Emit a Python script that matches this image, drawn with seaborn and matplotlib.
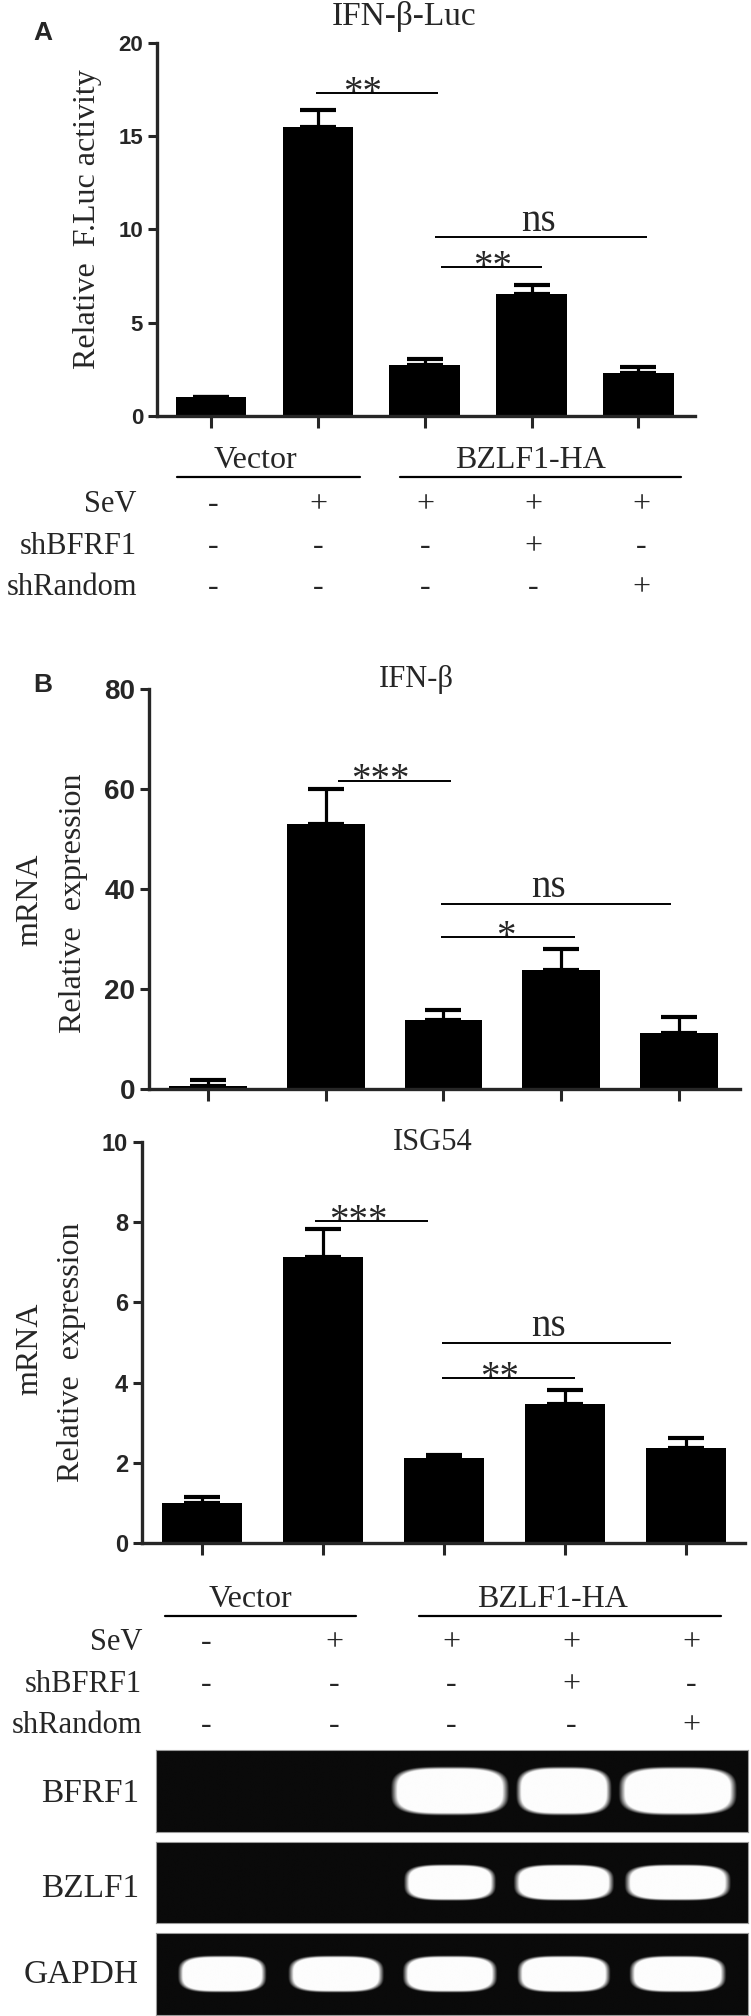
import numpy as np
import matplotlib
matplotlib.use("Agg")
import matplotlib.pyplot as plt
import seaborn as sns

W, H = 751, 2016

# ---- data ----
conditions = ["Vector", "Vector+SeV", "BZLF1+SeV", "BZLF1+SeV+shBFRF1", "BZLF1+SeV+shRandom"]
luc_mean = [1.0, 15.5, 2.75, 6.55, 2.3]
luc_err = [0.0, 0.9, 0.28, 0.45, 0.32]
ifnb_mean = [0.7, 53.1, 13.8, 23.9, 11.2]
ifnb_err = [1.1, 7.0, 2.0, 4.1, 3.2]
isg54_mean = [1.0, 7.12, 2.12, 3.46, 2.37]
isg54_err = [0.15, 0.7, 0.08, 0.36, 0.25]

row_names = ["SeV", "shBFRF1", "shRandom"]
sev = ["-", "+", "+", "+", "+"]
shbfrf1 = ["-", "-", "-", "+", "-"]
shrandom = ["-", "-", "-", "-", "+"]
groups = ["Vector", "BZLF1-HA"]

# significance brackets: (x from, x to, y, label, label x)
luc_sig = [(0.98, 2.12, 17.3, "**", 1.42), (2.10, 4.08, 9.6, "ns", 3.06), (2.15, 3.10, 8.0, "**", 2.64)]
ifnb_sig = [(1.10, 2.06, 61.7, "***", 1.46), (1.98, 3.93, 37.1, "ns", 2.89), (1.98, 3.12, 30.4, "*", 2.53)]
isg_sig = [(0.93, 1.87, 8.02, "***", 1.29), (1.98, 3.88, 5.0, "ns", 2.86), (1.98, 3.08, 4.12, "**", 2.46)]

blot_names = ["BFRF1", "BZLF1", "GAPDH"]
bfrf1_band = [0, 0, 1.0, 0.81, 1.0]
bzlf1_band = [0, 0, 0.78, 0.85, 0.9]
gapdh_band = [0.75, 0.81, 0.8, 0.79, 0.82]

sns.set_style("ticks")
plt.rcParams["font.family"] = ["Liberation Serif", "DejaVu Serif"]
SANS = "Liberation Sans"
SERIF = "Liberation Serif"

fig = plt.figure(figsize=(W / 100, H / 100), dpi=100)


def add_ax(l, t, r, b):
    return fig.add_axes([l / W, 1 - b / H, (r - l) / W, (b - t) / H])


def ftxt(x, y, s, **kw):
    fig.text(x / W, 1 - y / H, s, **kw)


def bar_panel(ax, means, errs, top, ticks, tsize, xlim, sig):
    sns.barplot(x=conditions, y=means, color="black", saturation=1, width=0.66,
                errorbar=None, ax=ax, edgecolor="black", linewidth=0)
    ax.errorbar(np.arange(5), means, yerr=[np.zeros(5), errs], fmt="none",
                ecolor="black", elinewidth=2.3, capsize=13, capthick=3)
    ax.set_xlim(*xlim)
    ax.set_ylim(0, top)
    ax.set_yticks(ticks)
    ax.set_yticklabels([str(t) for t in ticks], fontfamily=SANS, fontweight="bold", fontsize=tsize)
    ax.set_xlabel("")
    ax.set_ylabel("")
    sns.despine(ax=ax)
    for s in ["left", "bottom"]:
        ax.spines[s].set_linewidth(2.4)
    ax.tick_params(axis="y", length=6.5, width=2.2, pad=3.5)
    ax.tick_params(axis="x", length=8.5, width=2.2, labelbottom=False)
    for x1, x2, y, lab, tx in sig:
        ax.plot([x1, x2], [y, y], color="black", lw=1.4, solid_capstyle="butt")
        off = 4.5 if lab == "ns" else -7
        ax.annotate(lab, xy=(tx, y), xytext=(0, off), textcoords="offset points",
                    ha="center", va="baseline", fontsize=28, fontfamily=SERIF)


def cond_table(cols, line_spans, group_x, group_base, line_y, row_base, label_right):
    for g, gx in zip(groups, group_x):
        ftxt(gx, group_base, g, ha="center", va="baseline", fontsize=23, fontfamily=SERIF)
    for (x1, x2) in line_spans:
        fig.add_artist(plt.Line2D([x1 / W, x2 / W], [1 - line_y / H] * 2, color="black", lw=1.6))
    for name, row, yb in zip(row_names, [sev, shbfrf1, shrandom], row_base):
        ftxt(label_right, yb, name, ha="right", va="baseline", fontsize=22, fontfamily=SERIF)
        for cx, sym in zip(cols, row):
            ftxt(cx, yb, sym, ha="center", va="baseline", fontsize=23, fontfamily=SERIF)


def gel(ax, bands, hb):
    xlo, xhi = -0.579, 4.614
    xs = np.linspace(xlo, xhi, 900)
    ys = np.linspace(0, 1, 160)
    X, Y = np.meshgrid(xs, ys)
    img = np.zeros_like(X)
    for i, s in enumerate(bands):
        if s <= 0:
            continue
        a = 0.5 * s
        r = ((np.abs(X - i) / a) ** 3.4 + (np.abs(Y - 0.5) / hb) ** 3.4) ** (1 / 3.4)
        img = np.maximum(img, np.clip((1.04 - r) / 0.12, 0, 1))
    ax.imshow(0.04 + 0.95 * img, extent=(xlo, xhi, 0, 1), origin="lower", aspect="auto",
              cmap="gray", vmin=0, vmax=1, interpolation="bilinear")
    ax.set_xlim(xlo, xhi)
    ax.set_ylim(0, 1)
    ax.set_xticks([])
    ax.set_yticks([])
    for s in ax.spines.values():
        s.set_visible(True)
        s.set_color("#9a9a9a")
        s.set_linewidth(0.8)


# ---- panel A ----
axA = add_ax(157, 43, 695, 416)
bar_panel(axA, luc_mean, luc_err, 20, [0, 5, 10, 15, 20], 16, (-0.506, 4.53), luc_sig)
ftxt(404, 25, "IFN-β-Luc", ha="center", va="baseline", fontsize=24, fontfamily=SERIF)
ftxt(88, 219, "Relative  F.Luc activity", rotation=90, ha="center", va="center",
     fontsize=23, fontfamily=SERIF)
ftxt(33, 40, "A", ha="left", va="baseline", fontsize=19, fontfamily=SANS, fontweight="bold")
cond_table([213, 318, 425, 533, 641], [(177, 360), (400, 681)], [255, 531], 468, 477,
           [512, 554, 595], 137)

# ---- panel B, IFN-beta ----
axB1 = add_ax(149, 689, 740, 1089)
bar_panel(axB1, ifnb_mean, ifnb_err, 80, [0, 20, 40, 60, 80], 20, (-0.501, 4.518), ifnb_sig)
ftxt(416, 687, "IFN-β", ha="center", va="baseline", fontsize=22, fontfamily=SERIF)
ftxt(30, 900, "mRNA", rotation=90, ha="center", va="center", fontsize=23, fontfamily=SERIF)
ftxt(73, 903, "Relative  expression", rotation=90, ha="center", va="center", fontsize=23, fontfamily=SERIF)
ftxt(33, 692, "B", ha="left", va="baseline", fontsize=19, fontfamily=SANS, fontweight="bold")

# ---- panel B, ISG54 ----
axB2 = add_ax(142, 1142, 745, 1543)
bar_panel(axB2, isg54_mean, isg54_err, 10, [0, 2, 4, 6, 8, 10], 17, (-0.496, 4.488), isg_sig)
ftxt(433, 1150, "ISG54", ha="center", va="baseline", fontsize=22, fontfamily=SERIF)
ftxt(30, 1349, "mRNA", rotation=90, ha="center", va="center", fontsize=23, fontfamily=SERIF)
ftxt(72, 1352, "Relative  expression", rotation=90, ha="center", va="center", fontsize=23, fontfamily=SERIF)
cond_table([206, 334, 451, 571, 691], [(165, 356), (419, 721)], [250, 553], 1607, 1616,
           [1650, 1692, 1733], 142)

# ---- RT-PCR gels ----
for (t, b), name, bands, hb, base in zip([(1750, 1832), (1842, 1923), (1933, 2015)], blot_names,
                                          [bfrf1_band, bzlf1_band, gapdh_band], [0.29, 0.22, 0.22],
                                          [1802, 1897, 1983]):
    axg = add_ax(156, t, 748, b)
    gel(axg, bands, hb)
    ftxt(139, base, name, ha="right", va="baseline", fontsize=24, fontfamily=SERIF)

fig.savefig("out.png", dpi=100)
